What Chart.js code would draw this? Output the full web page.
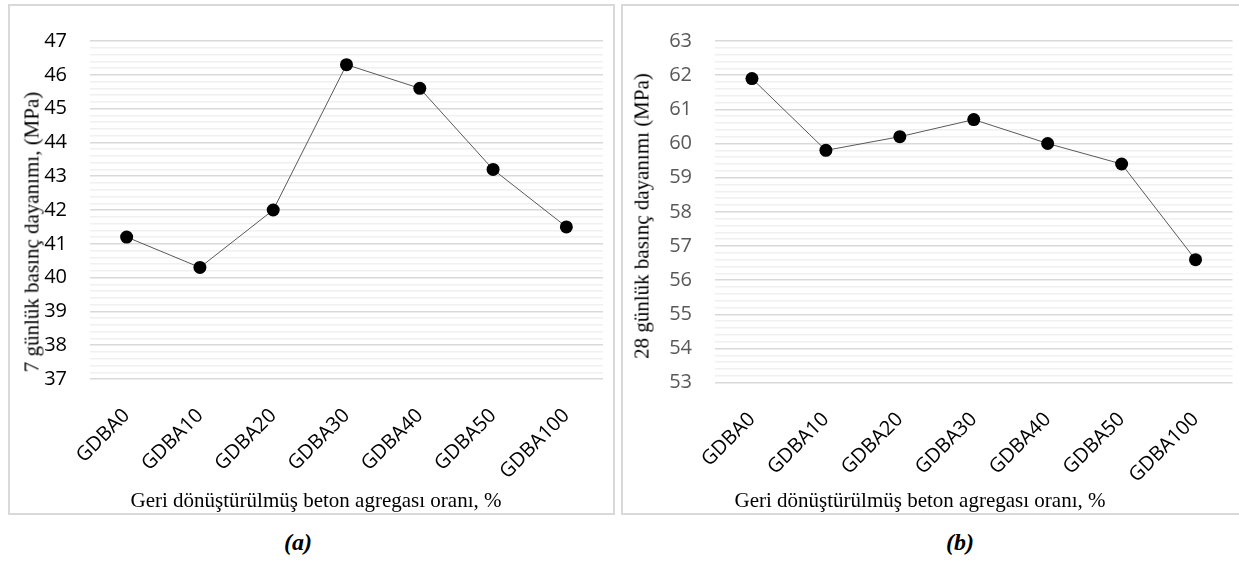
<!DOCTYPE html>
<html>
<head>
<meta charset="utf-8">
<script src="https://cdn.jsdelivr.net/npm/chart.js@4/dist/chart.umd.min.js"></script>
<style>
  html, body { margin: 0; padding: 0; background: #fff; }
  body { width: 1239px; height: 574px; position: relative; overflow: hidden; }
  .panel { position: absolute; border: 2px solid #d9d9d9; box-sizing: border-box; background: #fff; }
  .box { position: absolute; }
  .xt, .yt { position: absolute; font-family: "Liberation Serif", "Times New Roman", serif; font-size: 21px; color: #000; white-space: nowrap; line-height: 1; }
  .yt { transform: translate(-50%, -50%) rotate(-90deg); }
  .xt { transform: translate(-50%, -50%); }
  .cap { position: absolute; font-family: "Liberation Serif", "Times New Roman", serif; font-size: 24px; font-weight: bold; font-style: italic; transform: translate(-50%, -50%); line-height: 1; }
</style>
</head>
<body>
<div class="panel" style="left:8px; top:4px; width:607px; height:511px;"></div>
<div class="panel" style="left:621px; top:4px; width:640px; height:511px;"></div>

<div class="box" style="left:9px; top:6px; width:604px; height:508px;"><canvas id="cA"></canvas></div>
<div class="box" style="left:623px; top:6px; width:616px; height:508px;"><canvas id="cB"></canvas></div>

<div class="yt" style="left:32px; top:232px;">7 günlük basınç dayanımı, (MPa)</div>
<div class="yt" style="left:642px; top:216px;">28 günlük basınç dayanımı (MPa)</div>
<div class="xt" style="left:316px; top:500px;">Geri dönüştürülmüş beton agregası oranı, %</div>
<div class="xt" style="left:920px; top:500px;">Geri dönüştürülmüş beton agregası oranı, %</div>
<div class="cap" style="left:298px; top:542px;">(a)</div>
<div class="cap" style="left:960px; top:542px;">(b)</div>

<script>
const categories = ["GDBA0", "GDBA10", "GDBA20", "GDBA30", "GDBA40", "GDBA50", "GDBA100"];
const strength7 = [41.2, 40.3, 42.0, 46.3, 45.6, 43.2, 41.5];
const strength28 = [61.9, 59.8, 60.2, 60.7, 60.0, 59.4, 56.6];
const yRangeA = [37, 47];
const yRangeB = [53, 63];

function isMajor(v) { return Math.abs(v - Math.round(v)) < 1e-6; }

function makeChart(id, values, range, tickColor, yWidth, xHeight, pad) {
  return new Chart(document.getElementById(id), {
    type: 'line',
    data: {
      labels: categories,
      datasets: [{
        data: values,
        borderColor: '#595959',
        borderWidth: 1,
        pointBackgroundColor: '#000',
        pointBorderColor: '#000',
        pointRadius: 6.5,
        pointBorderWidth: 0,
        tension: 0,
        fill: false
      }]
    },
    options: {
      responsive: true,
      maintainAspectRatio: false,
      animation: false,
      devicePixelRatio: 1,
      layout: { padding: pad },
      plugins: { legend: { display: false }, tooltip: { enabled: false } },
      scales: {
        x: {
          offset: true,
          grid: { display: false, drawTicks: false },
          border: { display: false },
          ticks: {
            minRotation: 45, maxRotation: 45, padding: 25,
            color: '#000',
            font: { family: "'Open Sans', sans-serif", size: 20 }
          },
          afterFit: s => { s.height = xHeight; }
        },
        y: {
          min: range[0], max: range[1],
          border: { display: false },
          grid: {
            drawTicks: false,
            color: c => isMajor(c.tick.value) ? '#d9d9d9' : '#f0f0f0',
            lineWidth: c => isMajor(c.tick.value) ? 1.6 : 1.4
          },
          ticks: {
            stepSize: 0.2,
            autoSkip: false,
            padding: 23,
            color: tickColor,
            font: { family: "'Open Sans', sans-serif", size: 20 },
            callback: v => isMajor(v) ? String(Math.round(v)) : ''
          },
          afterFit: s => { s.width = yWidth; }
        }
      }
    }
  });
}

makeChart('cA', strength7, yRangeA, '#000', 81, 135, { top: 28.3, right: 10, left: 0, bottom: 0 });
makeChart('cB', strength28, yRangeB, '#595959', 92, 131.3, { top: 32.3, right: 6, left: 0, bottom: 0 });
</script>
</body>
</html>
